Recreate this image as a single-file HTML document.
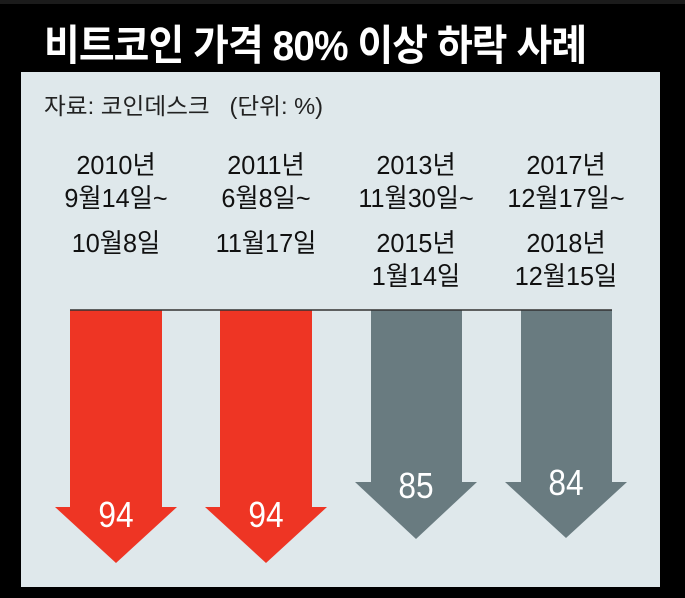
<!DOCTYPE html>
<html><head><meta charset="utf-8"><style>
body{margin:0;width:685px;height:598px;background:#000;overflow:hidden;position:relative;font-family:"Liberation Sans","Noto Sans CJK KR",sans-serif}
.top{position:absolute;left:0;top:0;width:685px;height:4px;background:#1b1b1b}
.bot{position:absolute;left:0;top:587px;width:685px;height:11px;background:#1b1b1b}
.title{position:absolute;left:44px;top:12px;color:#fff;font-size:42px;font-weight:bold;transform:scaleX(0.925);transform-origin:left top;white-space:nowrap;letter-spacing:-1px}
.panel{position:absolute;left:21px;top:72px;width:639px;height:515px;background:#dfe8eb}
.t{position:absolute;color:#111;font-size:26px;white-space:nowrap;transform:scaleX(0.97);transform-origin:center top;text-align:center;line-height:33px}
.src{position:absolute;left:44px;top:87px;font-size:23px;color:#222;transform:scaleX(1.03);transform-origin:left top;white-space:nowrap}
</style></head><body>
<div class="top"></div>
<div class="title">비트코인 가격 80% 이상 하락 사례</div>
<div class="panel"></div>
<div class="src">자료: 코인데스크 &nbsp;&nbsp;(단위: %)</div>
<div class="t" style="left:36px;width:160px;top:149px">2010년<br>9월14일~</div>
<div class="t" style="left:36px;width:160px;top:227px">10월8일</div>
<div class="t" style="left:186px;width:160px;top:149px">2011년<br>6월8일~</div>
<div class="t" style="left:186px;width:160px;top:227px">11월17일</div>
<div class="t" style="left:336px;width:160px;top:149px">2013년<br>11월30일~</div>
<div class="t" style="left:336px;width:160px;top:227px">2015년<br>1월14일</div>
<div class="t" style="left:486px;width:160px;top:149px">2017년<br>12월17일~</div>
<div class="t" style="left:486px;width:160px;top:227px">2018년<br>12월15일</div>
<svg style="position:absolute;left:0;top:0" width="685" height="598">
<polygon points="70,310 162,310 162,507 177,507 116,563 55,507 70,507" fill="#ee3524"/>
<polygon points="220,310 312,310 312,507 327,507 266,563 205,507 220,507" fill="#ee3524"/>
<polygon points="371,310 462,310 462,482 477,482 416,539 355,482 371,482" fill="#697b80"/>
<polygon points="521,310 612,310 612,482 627,482 566,538 505,482 521,482" fill="#697b80"/>
<line x1="70" y1="310" x2="612" y2="310" stroke="#333" stroke-width="1.5"/>
<g fill="#fff" font-family="Liberation Sans, sans-serif" font-size="36" text-anchor="middle">
<text x="116" y="527" transform="translate(116 0) scale(0.88 1) translate(-116 0)">94</text>
<text x="266" y="527" transform="translate(266 0) scale(0.88 1) translate(-266 0)">94</text>
<text x="416" y="498" transform="translate(416 0) scale(0.88 1) translate(-416 0)">85</text>
<text x="566" y="495" transform="translate(566 0) scale(0.88 1) translate(-566 0)">84</text>
</g>
</svg>
</body></html>
